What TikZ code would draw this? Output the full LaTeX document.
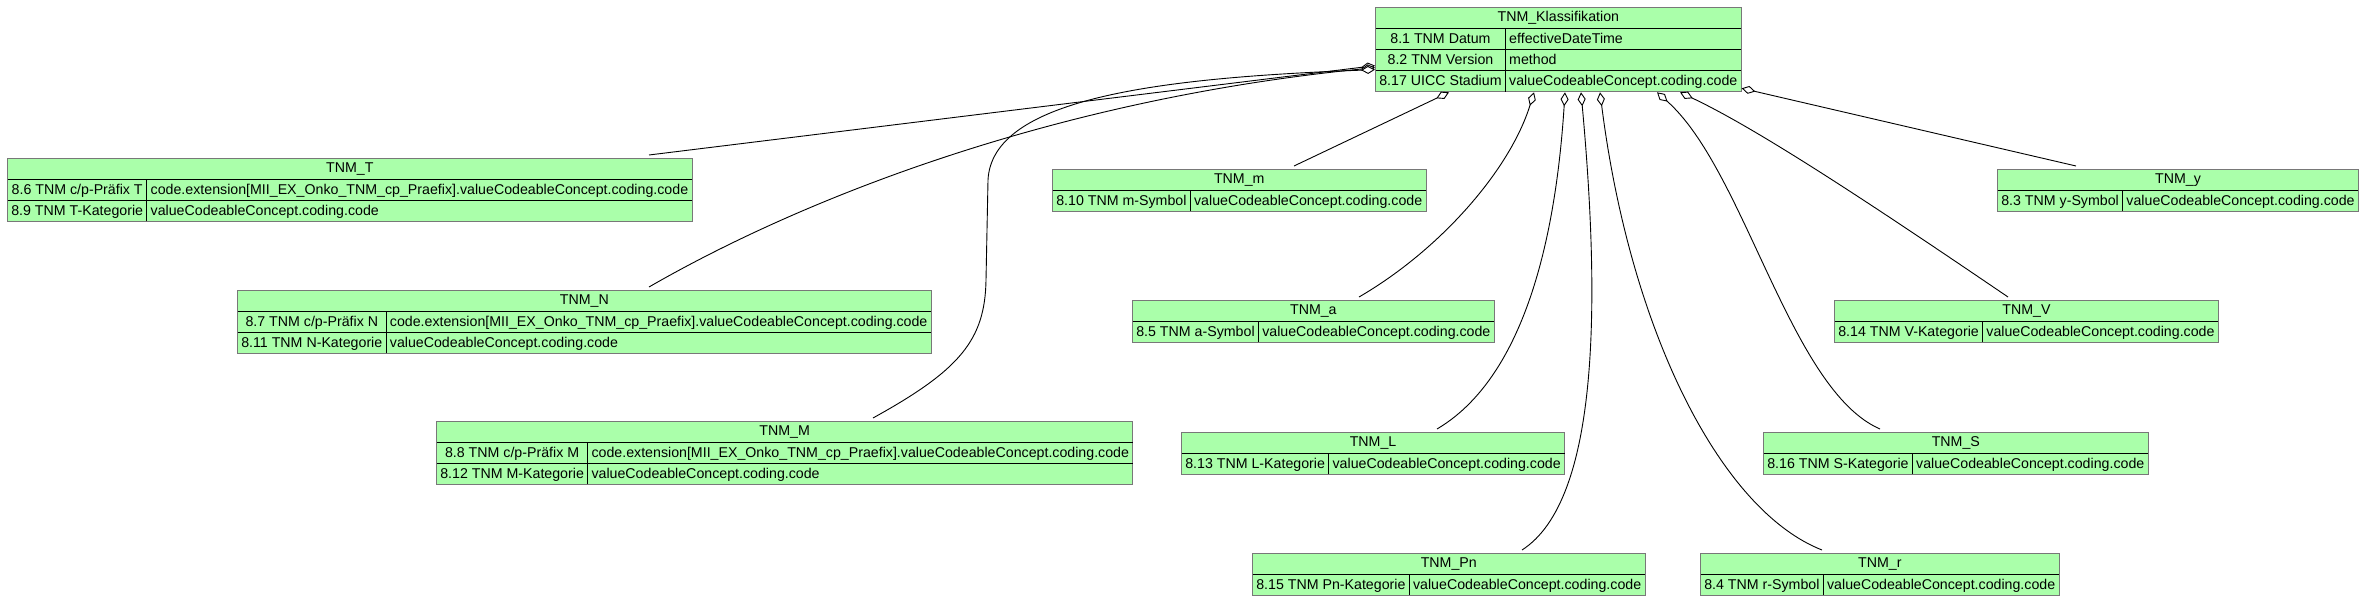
\documentclass[tikz,border=0pt]{standalone}
\usepackage{fontspec}
\setmainfont{Liberation Sans}
\usetikzlibrary{arrows.meta}
\definecolor{tnmgreen}{RGB}{170,255,170}
\definecolor{tnmborder}{RGB}{120,120,120}
\newcommand{\tnmfont}{\fontsize{14.2}{16.8}\selectfont}
\renewcommand{\arraystretch}{1.21}
\setlength{\arrayrulewidth}{1pt}
\setlength{\tabcolsep}{3.8pt}
\tikzset{
  tbl/.style={draw=tnmborder, line width=1pt, fill=tnmgreen, inner sep=0pt, anchor=north west, font=\tnmfont},
  agg/.style={draw=black, line width=0.9pt, -{Diamond[length=14pt,width=8pt,fill=white,line width=0.9pt]}}
}
\begin{document}
\begin{tikzpicture}[x=1pt,y=-1pt]
\useasboundingbox (0,0) rectangle (2367,601);
\fill[white] (0,0) rectangle (2367,601);

\node[tbl] (K) at (1375,7) {\begin{tabular}{c|l}
\multicolumn{2}{c}{TNM\_Klassifikation}\\\hline
8.1 TNM Datum & effectiveDateTime\\\hline
8.2 TNM Version & method\\\hline
8.17 UICC Stadium & valueCodeableConcept.coding.code
\end{tabular}};

\node[tbl] (T) at (7,158) {\begin{tabular}{c|l}
\multicolumn{2}{c}{TNM\_T}\\\hline
8.6 TNM c/p-Präfix T & code.extension[MII\_EX\_Onko\_TNM\_cp\_Praefix].valueCodeableConcept.coding.code\\\hline
8.9 TNM T-Kategorie & valueCodeableConcept.coding.code
\end{tabular}};

\node[tbl] (N) at (237,290) {\begin{tabular}{c|l}
\multicolumn{2}{c}{TNM\_N}\\\hline
8.7 TNM c/p-Präfix N & code.extension[MII\_EX\_Onko\_TNM\_cp\_Praefix].valueCodeableConcept.coding.code\\\hline
8.11 TNM N-Kategorie & valueCodeableConcept.coding.code
\end{tabular}};

\node[tbl] (M) at (436,421) {\begin{tabular}{c|l}
\multicolumn{2}{c}{TNM\_M}\\\hline
8.8 TNM c/p-Präfix M & code.extension[MII\_EX\_Onko\_TNM\_cp\_Praefix].valueCodeableConcept.coding.code\\\hline
8.12 TNM M-Kategorie & valueCodeableConcept.coding.code
\end{tabular}};

\node[tbl] (m) at (1052,169) {\begin{tabular}{c|l}
\multicolumn{2}{c}{TNM\_m}\\\hline
8.10 TNM m-Symbol & valueCodeableConcept.coding.code
\end{tabular}};

\node[tbl] (y) at (1997,169) {\begin{tabular}{c|l}
\multicolumn{2}{c}{TNM\_y}\\\hline
8.3 TNM y-Symbol & valueCodeableConcept.coding.code
\end{tabular}};

\node[tbl] (a) at (1132,300) {\begin{tabular}{c|l}
\multicolumn{2}{c}{TNM\_a}\\\hline
8.5 TNM a-Symbol & valueCodeableConcept.coding.code
\end{tabular}};

\node[tbl] (V) at (1834,300) {\begin{tabular}{c|l}
\multicolumn{2}{c}{TNM\_V}\\\hline
8.14 TNM V-Kategorie & valueCodeableConcept.coding.code
\end{tabular}};

\node[tbl] (L) at (1181,432) {\begin{tabular}{c|l}
\multicolumn{2}{c}{TNM\_L}\\\hline
8.13 TNM L-Kategorie & valueCodeableConcept.coding.code
\end{tabular}};

\node[tbl] (S) at (1763,432) {\begin{tabular}{c|l}
\multicolumn{2}{c}{TNM\_S}\\\hline
8.16 TNM S-Kategorie & valueCodeableConcept.coding.code
\end{tabular}};

\node[tbl] (Pn) at (1252,553) {\begin{tabular}{c|l}
\multicolumn{2}{c}{TNM\_Pn}\\\hline
8.15 TNM Pn-Kategorie & valueCodeableConcept.coding.code
\end{tabular}};

\node[tbl] (r) at (1700,553) {\begin{tabular}{c|l}
\multicolumn{2}{c}{TNM\_r}\\\hline
8.4 TNM r-Symbol & valueCodeableConcept.coding.code
\end{tabular}};

% connectors (aggregation diamonds at TNM_Klassifikation)
\draw[agg] ([xshift=642pt,yshift=3pt]T.north west) -- ([yshift=-16pt]K.west);
\draw[agg] ([xshift=412pt,yshift=3pt]N.north west) .. controls (800,200) and (1050,100) .. ([yshift=-18pt]K.west);
\draw[agg] ([xshift=437pt,yshift=3pt]M.north west) .. controls (960,370) and (985,340) .. (986,280) -- (988,180) .. controls (992,100) and (1150,78) .. ([yshift=-20pt]K.west);
\draw[agg] ([xshift=242pt,yshift=3pt]m.north west) -- ([xshift=74pt]K.south west);
\draw[agg] ([xshift=227pt,yshift=3pt]a.north west) .. controls (1440,250) and (1510,170) .. ([xshift=159pt]K.south west);
\draw[agg] ([xshift=256pt,yshift=3pt]L.north west) .. controls (1520,380) and (1555,250) .. ([xshift=190pt]K.south west);
\draw[agg] ([xshift=270pt,yshift=3pt]Pn.north west) .. controls (1600,500) and (1600,300) .. ([xshift=206pt]K.south west);
\draw[agg] ([xshift=122pt,yshift=3pt]r.north west) .. controls (1720,510) and (1630,330) .. ([xshift=225pt]K.south west);
\draw[agg] ([xshift=117pt,yshift=3pt]S.north west) .. controls (1790,390) and (1745,170) .. ([xshift=282pt]K.south west);
\draw[agg] ([xshift=174pt,yshift=3pt]V.north west) .. controls (1880,210) and (1760,130) .. ([xshift=305pt]K.south west);
\draw[agg] ([xshift=79pt,yshift=3pt]y.north west) -- ([yshift=4pt]K.south east);
\end{tikzpicture}
\end{document}
